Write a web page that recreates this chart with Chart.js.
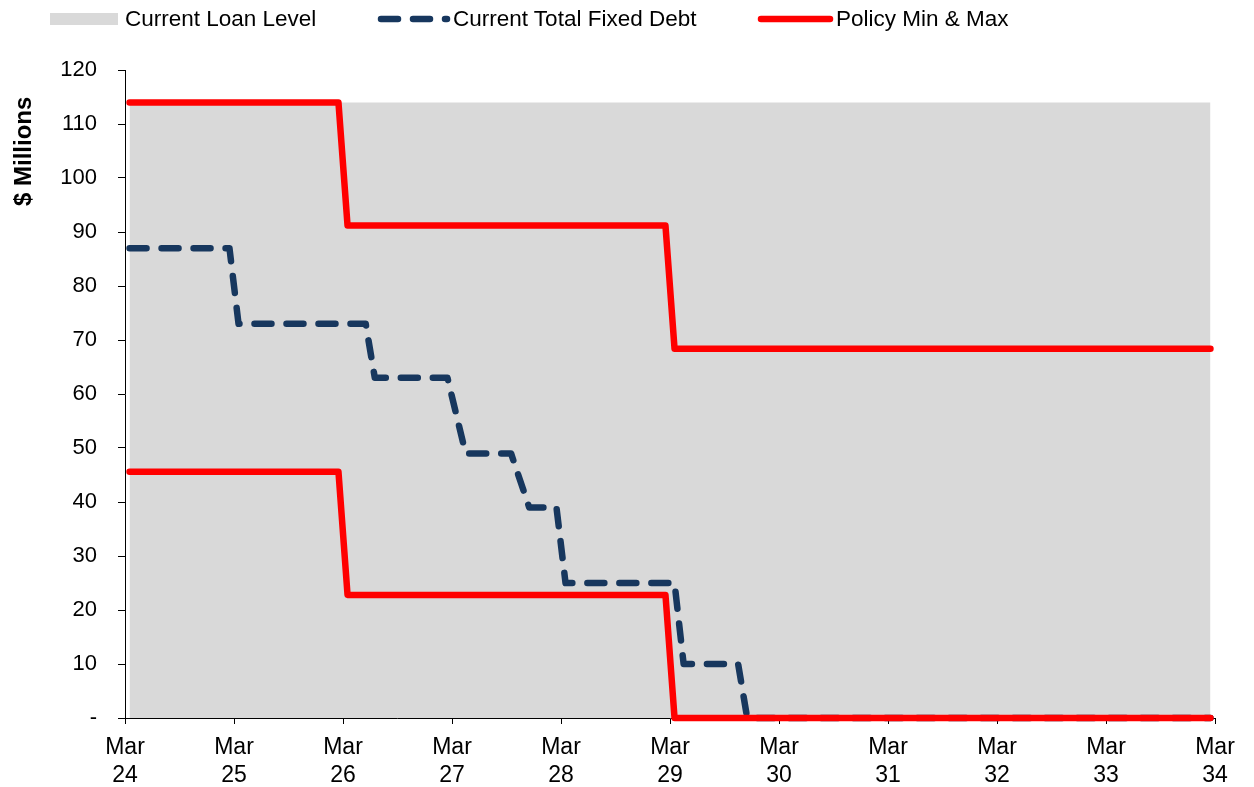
<!DOCTYPE html>
<html>
<head>
<meta charset="utf-8">
<script src="https://cdn.jsdelivr.net/npm/chart.js@4.4.1/dist/chart.umd.min.js"></script>
<style>
    body { margin: 0; background: #fff; font-family: "Liberation Sans", Arial, sans-serif; }
    #wrap { position: relative; width: 1254px; height: 787px; }
    #chart { position: absolute; left: 0; top: 0; }
    .leg-text { position: absolute; top: 6px; font-size: 22.5px; line-height: 26px; color: #000; white-space: nowrap; }
    .leg-box { position: absolute; left: 50px; top: 13px; width: 68px; height: 12px; background: #D9D9D9; }
    .leg-line { position: absolute; top: 12px; }
</style>
</head>
<body>
<div id="wrap">
    <canvas id="chart" width="1254" height="787"></canvas>
    <div class="leg-box"></div>
    <div class="leg-text" style="left:125px">Current Loan Level</div>
    <svg class="leg-line" style="left:370px" width="90" height="14">
        <line x1="11" y1="7" x2="77" y2="7" stroke="#17375E" stroke-width="6.5" stroke-linecap="round" stroke-dasharray="17 15"></line>
    </svg>
    <div class="leg-text" style="left:453px">Current Total Fixed Debt</div>
    <svg class="leg-line" style="left:750px" width="90" height="14">
        <line x1="11" y1="7" x2="80" y2="7" stroke="#FF0000" stroke-width="6.5" stroke-linecap="round"></line>
    </svg>
    <div class="leg-text" style="left:836px">Policy Min &amp; Max</div>
</div>
<script>
// months counted from Mar 24 (monthly points, Excel puts them mid-category)
const loanMonths = [0, 119];
const loanLevel = [114, 114];

const fixedMonths = [0, 11, 12, 26, 27, 35, 37, 42, 44, 47, 48, 60, 61, 67, 68, 119];
const fixedDebt = [87, 87, 73, 73, 63, 63, 49, 49, 39, 39, 25, 25, 10, 10, 0, 0];

const policyMonths = [0, 23, 24, 59, 60, 119];
const policyMax = [114, 114, 91.2, 91.2, 68.4, 68.4];
const policyMin = [45.6, 45.6, 22.8, 22.8, 0, 0];

const yearLabels = ['24', '25', '26', '27', '28', '29', '30', '31', '32', '33', '34'];

function toPoints(months, values) {
    return months.map((m, i) => ({ x: m + 0.5, y: values[i] }));
}

Chart.defaults.font.family = "'Liberation Sans', Arial, sans-serif";
Chart.defaults.color = '#000';

const redLine = {
    borderColor: '#FF0000',
    backgroundColor: '#FF0000',
    borderWidth: 6.5,
    borderCapStyle: 'round',
    borderJoinStyle: 'round',
    fill: false,
    clip: 8,
    order: 1
};

const ctx = document.getElementById('chart').getContext('2d');
const debtChart = new Chart(ctx, {
    type: 'line',
    data: {
        datasets: [
            Object.assign({ label: 'Policy Min & Max', data: toPoints(policyMonths, policyMax) }, redLine),
            Object.assign({ label: 'Policy Min & Max', data: toPoints(policyMonths, policyMin) }, redLine),
            {
                label: 'Current Total Fixed Debt',
                data: toPoints(fixedMonths, fixedDebt),
                borderColor: '#17375E',
                borderWidth: 6.5,
                borderDash: [17, 15],
                borderCapStyle: 'round',
                borderJoinStyle: 'round',
                fill: false,
                clip: 8,
                order: 2
            },
            {
                label: 'Current Loan Level',
                data: toPoints(loanMonths, loanLevel),
                backgroundColor: '#D9D9D9',
                borderWidth: 0,
                fill: 'origin',
                order: 3
            }
        ]
    },
    options: {
        responsive: false,
        animation: false,
        devicePixelRatio: 1,
        layout: { padding: { top: 70, right: 39, left: 0, bottom: 0 } },
        elements: { point: { radius: 0 }, line: { tension: 0 } },
        plugins: {
            legend: { display: false },
            tooltip: { enabled: false }
        },
        scales: {
            x: {
                type: 'linear',
                min: 0,
                max: 120,
                ticks: {
                    stepSize: 12,
                    autoSkip: false,
                    maxRotation: 0,
                    padding: 9,
                    font: { size: 23, lineHeight: 1.25 },
                    callback: function(v) { return ['Mar', yearLabels[v / 12]]; }
                },
                grid: { drawOnChartArea: false, tickLength: 6, color: '#000' },
                border: { color: '#000' },
                afterFit: function(scale) { scale.height = 69; }
            },
            y: {
                min: 0,
                max: 120,
                ticks: {
                    stepSize: 10,
                    padding: 21,
                    font: { size: 22 },
                    callback: function(v) { return v === 0 ? '-' : v; }
                },
                grid: { drawOnChartArea: false, tickLength: 7, color: '#000' },
                border: { color: '#000' },
                title: {
                    display: true,
                    text: '$ Millions    ',
                    align: 'end',
                    font: { size: 24, weight: 'bold' },
                    padding: { top: 10, bottom: 0 }
                },
                afterFit: function(scale) { scale.width = 125; }
            }
        }
    }
});
</script>
</body>
</html>
